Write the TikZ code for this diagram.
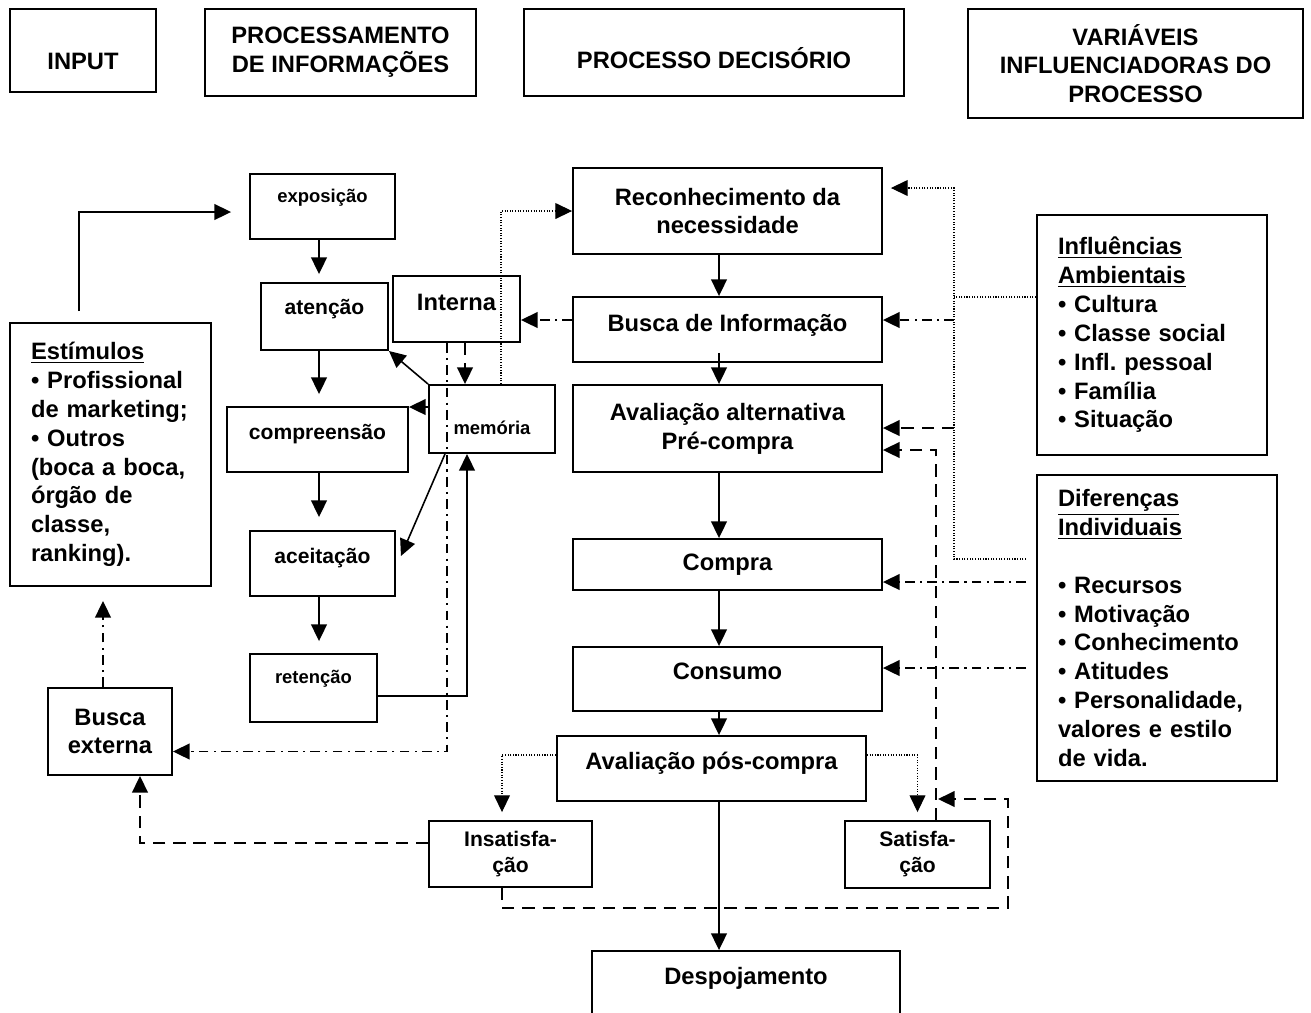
\documentclass[tikz,border=0pt]{standalone}
\usepackage{fontspec}
\setmainfont{Liberation Sans}
\usetikzlibrary{arrows.meta}

\begin{document}
\begin{tikzpicture}[
        x=0.02cm, y=-0.02cm,
        stage/.style={draw, line width=1.1pt, align=center, inner sep=0pt, font=\fontsize{13.5}{16.4}\selectfont\bfseries},
        midstage/.style={stage, font=\fontsize{12}{14.8}\selectfont\bfseries},
        smallstage/.style={stage, font=\fontsize{10.5}{12.6}\selectfont\bfseries},
        listbox/.style={stage, align=left, inner xsep=0.42cm},
        arrow/.style={-{Triangle[length=9.5pt, width=9pt]}, line width=0.9pt},
        dashline/.style={dash pattern=on 7pt off 4.5pt},
        dashdot/.style={dash pattern=on 5.5pt off 3pt on 1.2pt off 3pt},
        dotline/.style={line width=0.6pt, dash pattern=on 0.6pt off 0.9pt}
    ]
        \useasboundingbox (0,0) rectangle (1311,1012);
        \node[stage, minimum width=2.92cm, minimum height=1.66cm, text height=0.852cm, text depth=0.08cm] (input) at (83, 50.5) {INPUT};
        \node[stage, minimum width=5.42cm, minimum height=1.74cm] (procinfo) at (340.5, 52.5) {PROCESSAMENTO\\DE INFORMAÇÕES};
        \node[stage, minimum width=7.6cm, minimum height=1.74cm, text height=0.732cm, text depth=0.08cm] (procdec) at (714, 52.5) {PROCESSO DECISÓRIO};
        \node[stage, minimum width=6.7cm, minimum height=2.18cm] (variaveis) at (1135.5, 63.5) {VARIÁVEIS\\INFLUENCIADORAS DO\\PROCESSO};
        \node[smallstage, minimum width=2.9cm, minimum height=1.3cm, text height=0.278cm, text depth=0.454cm] (expo) at (322.5, 206.5) {exposição};
        \node[midstage, minimum width=2.54cm, minimum height=1.34cm, text height=0.316cm, text depth=0.416cm] (aten) at (324.5, 316.5) {atenção};
        \node[midstage, minimum width=3.62cm, minimum height=1.3cm, text height=0.316cm, text depth=0.336cm] (compr) at (317.5, 439.5) {compreensão};
        \node[midstage, minimum width=2.9cm, minimum height=1.3cm, text height=0.316cm, text depth=0.336cm] (aceit) at (322.5, 563.5) {aceitação};
        \node[smallstage, minimum width=2.54cm, minimum height=1.36cm, text height=0.278cm, text depth=0.474cm] (reten) at (313.5, 688) {retenção};
        \node[stage, minimum width=2.54cm, minimum height=1.32cm, text height=0.356cm, text depth=0.304cm] (intern) at (456.5, 309) {Interna};
        \node[smallstage, minimum width=2.52cm, minimum height=1.36cm, text height=0.704cm, text depth=0.08cm] (memo) at (492, 419) {memória};
        \node[listbox, text width=3.18cm, minimum height=5.26cm] (estim) at (110.5, 454.5) {\underline{Estímulos}\\ \textbullet\ Profissional\\ de marketing;\\ \textbullet\ Outros\\ (boca a boca,\\ órgão de\\ classe,\\ ranking).};
        \node[stage, minimum width=2.48cm, minimum height=1.74cm] (busext) at (110, 731.5) {Busca\\externa};
        \node[stage, minimum width=6.18cm, minimum height=1.72cm] (recon) at (727.5, 211) {Reconhecimento da\\necessidade};
        \node[stage, minimum width=6.18cm, minimum height=1.3cm, text height=0.356cm, text depth=0.264cm] (busca) at (727.5, 329.5) {Busca de Informação};
        \node[stage, minimum width=6.18cm, minimum height=1.74cm] (avalt) at (727.5, 428.5) {Avaliação alternativa\\Pré-compra};
        \node[stage, minimum width=6.18cm, minimum height=1.02cm] (compra) at (727.5, 564.5) {Compra};
        \node[stage, minimum width=6.18cm, minimum height=1.28cm, text height=0.356cm, text depth=0.324cm] (consumo) at (727.5, 679) {Consumo};
        \node[stage, minimum width=6.18cm, minimum height=1.3cm, text height=0.356cm, text depth=0.304cm] (avpos) at (711.5, 768.5) {Avaliação pós-compra};
        \node[midstage, minimum width=3.26cm, minimum height=1.32cm] (insat) at (510.5, 854) {Insatisfa-\\ção};
        \node[midstage, minimum width=2.9cm, minimum height=1.34cm] (satis) at (917.5, 854.5) {Satisfa-\\ção};
        \node[stage, minimum width=6.16cm, minimum height=1.78cm, text height=0.356cm, text depth=0.784cm] (despo) at (746, 995.5) {Despojamento};
        \node[listbox, text width=3.76cm, minimum height=4.8cm] (influ) at (1152, 335) {\underline{Influências}\\ \underline{Ambientais}\\ \textbullet\ Cultura\\ \textbullet\ Classe social\\ \textbullet\ Infl.\ pessoal\\ \textbullet\ Família\\ \textbullet\ Situação\\[12pt]};
        \node[listbox, text width=3.96cm, minimum height=6.12cm] (difer) at (1157, 628) {\underline{Diferenças}\\ \underline{Individuais}\\[16.4pt] \textbullet\ Recursos\\ \textbullet\ Motivação\\ \textbullet\ Conhecimento\\ \textbullet\ Atitudes\\ \textbullet\ Personalidade,\\ valores e estilo\\ de vida.};
        \coordinate (colx) at (319, 0);
        \coordinate (coly) at (719, 0);
        \coordinate (vtop) at (954, 188);
        \coordinate (vbot) at (954, 559);
        \coordinate (v1) at (954, 297);
        \coordinate (v2) at (954, 320);
        \coordinate (v3) at (954, 428);
        \coordinate (loopr) at (1008, 908);
        \coordinate (satup) at (938, 799);
        \draw[arrow, shorten <=0.22cm, shorten >=0.36cm] ([xshift=-0.63cm]estim.north) |- ([yshift=-0.11cm]expo.west);
        \draw[arrow, dashdot, shorten >=0.28cm] ([xshift=-0.14cm]busext.north) -- ([xshift=-0.14cm]busext.north |- estim.south);
        \draw[arrow, shorten >=0.16cm] (expo.south -| colx) -- (aten.north -| colx);
        \draw[arrow, shorten >=0.24cm] (aten.south -| colx) -- (compr.north -| colx);
        \draw[arrow, shorten >=0.26cm] (compr.south -| colx) -- (aceit.north -| colx);
        \draw[arrow, shorten >=0.24cm] (aceit.south -| colx) -- (reten.north -| colx);
        \draw[arrow] ([yshift=-0.16cm]reten.east) -| ([xshift=-0.5cm]memo.south);
        \draw[arrow] (memo.north west) -- (aten.south east);
        \draw[arrow] ([yshift=0.24cm]memo.west) -- ([yshift=0.24cm]memo.west -| compr.east);
        \draw[arrow] ([xshift=-0.94cm]memo.south) -- ([xshift=0.1cm, yshift=0.15cm]aceit.east);
        \draw[arrow, dashline] ([xshift=0.17cm]intern.south) -- ([xshift=0.17cm]intern.south |- memo.north);
        \draw[arrow, dashdot] ([xshift=-0.19cm]intern.south) |- ([yshift=-0.4cm]busext.east);
        \draw[arrow, dotline] ([xshift=0.18cm]memo.north) |- (recon.west);
        \draw[arrow, dashdot] ([yshift=0.19cm]busca.west) -- ([yshift=0.19cm]busca.west -| intern.east);
        \draw[arrow] (recon.south -| coly) -- (busca.north -| coly);
        \draw[arrow] ([yshift=0.2cm]busca.south -| coly) -- (avalt.north -| coly);
        \draw[arrow] (avalt.south -| coly) -- (compra.north -| coly);
        \draw[arrow] (compra.south -| coly) -- (consumo.north -| coly);
        \draw[arrow] (consumo.south -| coly) -- (avpos.north -| coly);
        \draw[arrow] (avpos.south -| coly) -- (despo.north -| coly);
        \draw[arrow, dotline, shorten >=0.16cm] ([yshift=0.27cm]avpos.west) -| ([xshift=-0.17cm]insat.north);
        \draw[arrow, dotline, shorten >=0.16cm] ([yshift=0.27cm]avpos.east) -| (satis.north);
        \draw[arrow, dashline] ([yshift=0.22cm]insat.west) -| ([xshift=0.6cm]busext.south);
        \draw[arrow, dashline] ([xshift=-0.17cm]insat.south) |- (loopr) |- (satup);
        \draw[arrow, dashline] ([xshift=0.37cm]satis.north) |- ([yshift=-0.43cm]avalt.east);
        \draw[dotline] (influ.west |- v1) -- (v1);
        \draw[arrow, dotline, shorten <=0.2cm, shorten >=0.16cm] (difer.west |- vbot) -- (vbot) -- (vtop) -- (vtop -| recon.east);
        \draw[arrow, dashdot] (v2) -- (v2 -| busca.east);
        \draw[arrow, dashline] (v3) -- (v3 -| avalt.east);
        \draw[arrow, dashdot, shorten <=0.2cm] ([yshift=-0.35cm]compra.east -| difer.west) -- ([yshift=-0.35cm]compra.east);
        \draw[arrow, dashdot, shorten <=0.2cm] ([yshift=0.22cm]consumo.east -| difer.west) -- ([yshift=0.22cm]consumo.east);
    \end{tikzpicture}
\end{document}
